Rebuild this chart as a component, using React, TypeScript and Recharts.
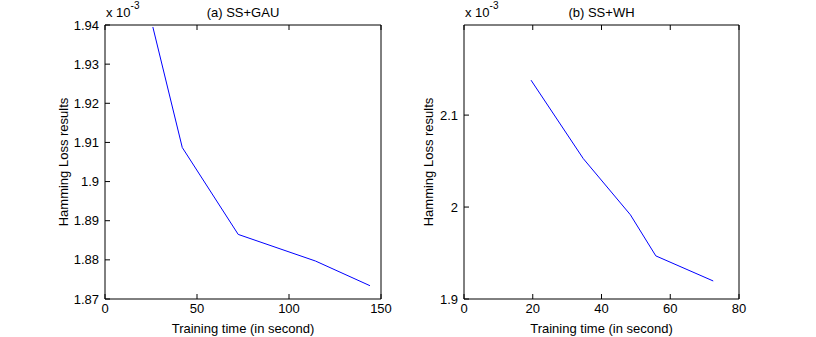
import React from 'react';
import { LineChart, Line, XAxis, YAxis, Label } from 'recharts';

// Hamming loss (x 10^-3) vs training time, two settings
const gauTime = [26, 42, 72.4, 114.4, 144];
const gauLoss = [1.9395, 1.9087, 1.8865, 1.8797, 1.8734];
const gauXTicks = [0, 50, 100, 150];
const gauYTicks = [1.87, 1.88, 1.89, 1.9, 1.91, 1.92, 1.93, 1.94];

const whTime = [19.5, 34.7, 48.4, 55.8, 72.5];
const whLoss = [2.138, 2.0527, 1.9916, 1.9469, 1.9196];
const whXTicks = [0, 20, 40, 60, 80];
const whYTicks = [1.9, 2, 2.1];

const FONT = '"Liberation Sans", Arial, sans-serif';
const tickStyle = { fill: '#000', fontSize: 13, fontFamily: FONT };

const fmt = (v: number) => String(Number(v.toFixed(3)));

interface PanelProps {
  title: string;
  times: number[];
  losses: number[];
  xTicks: number[];
  yTicks: number[];
  yDomain: [number, number];
  left: number;
  marginLeft: number;
  marginRight: number;
  labelOffset: number;
}

const Panel: React.FC<PanelProps> = ({ title, times, losses, xTicks, yTicks, yDomain, left, marginLeft, marginRight, labelOffset }) => {
  const data = times.map((t, i) => ({ t, loss: losses[i] }));
  const xDomain: [number, number] = [xTicks[0], xTicks[xTicks.length - 1]];
  return (
    <div style={{ position: 'absolute', left, top: 0 }}>
      <LineChart width={408} height={337} data={data} margin={{ top: 25, right: marginRight, bottom: 4, left: marginLeft }}>
        <XAxis
          xAxisId="b"
          type="number"
          dataKey="t"
          domain={xDomain}
          ticks={xTicks}
          height={34}
          tickSize={-5}
          tickMargin={10}
          stroke="#000"
          tick={tickStyle}
        >
          <Label value="Training time (in second)" position="insideBottom" offset={0} style={{ fill: '#000', fontSize: 13, fontFamily: FONT }} />
        </XAxis>
        <XAxis
          xAxisId="t"
          orientation="top"
          type="number"
          dataKey="t"
          domain={xDomain}
          ticks={xTicks}
          height={1}
          mirror
          tickSize={5}
          stroke="#000"
          tick={() => <g />}
        >
          <Label value={title} position="top" offset={8} style={{ fill: '#000', fontSize: 13, fontFamily: FONT }} />
        </XAxis>
        <YAxis
          yAxisId="l"
          type="number"
          domain={yDomain}
          ticks={yTicks}
          width={50}
          tickSize={-5}
          tickMargin={11}
          tickFormatter={fmt}
          stroke="#000"
          tick={tickStyle}
        >
          <Label
            value="Hamming Loss results"
            angle={-90}
            position="insideLeft"
            offset={labelOffset}
            style={{ fill: '#000', fontSize: 13, fontFamily: FONT, textAnchor: 'middle' }}
          />
        </YAxis>
        <YAxis
          yAxisId="r"
          orientation="right"
          type="number"
          domain={yDomain}
          ticks={yTicks}
          width={1}
          mirror
          tickSize={5}
          stroke="#000"
          tick={() => <g />}
        />
        <Line
          xAxisId="b"
          yAxisId="l"
          type="linear"
          dataKey="loss"
          stroke="#0000ff"
          strokeWidth={1}
          dot={false}
          isAnimationActive={false}
        />
      </LineChart>
      <svg width={60} height={24} style={{ position: 'absolute', left: marginLeft + 51, top: 0, overflow: 'visible' }}>
        <text x={0} y={17} fontSize={13} fontFamily={FONT} fill="#000">
          x 10
          <tspan dy={-8} fontSize={10}>-3</tspan>
        </text>
      </svg>
    </div>
  );
};

export default function App() {
  return (
    <div style={{ position: 'absolute', left: 0, top: 0, width: 816, height: 337, background: '#fff' }}>
      <Panel
        title="(a) SS+GAU"
        times={gauTime}
        losses={gauLoss}
        xTicks={gauXTicks}
        yTicks={gauYTicks}
        yDomain={[1.87, 1.94]}
        left={0}
        marginLeft={55}
        marginRight={27}
        labelOffset={8}
      />
      <Panel
        title="(b) SS+WH"
        times={whTime}
        losses={whLoss}
        xTicks={whXTicks}
        yTicks={whYTicks}
        yDomain={[1.9, 2.198]}
        left={408}
        marginLeft={6}
        marginRight={77}
        labelOffset={14}
      />
    </div>
  );
}
